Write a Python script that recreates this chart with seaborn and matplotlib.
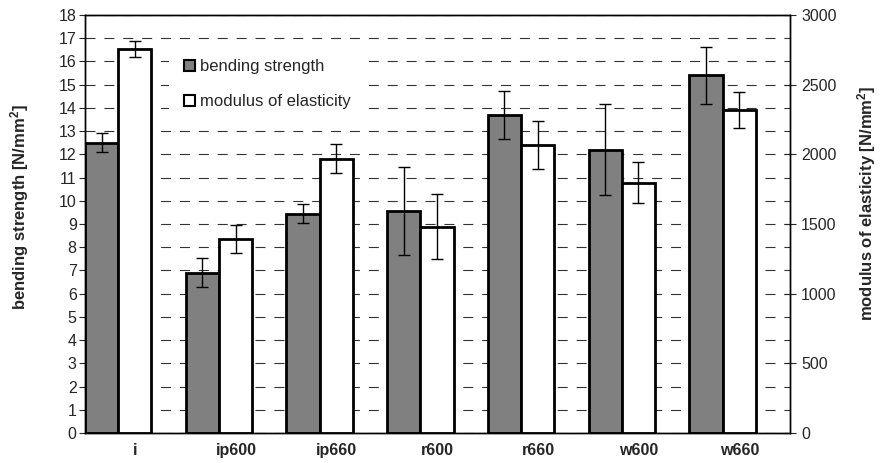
import pandas as pd
import numpy as np
import seaborn as sns
import matplotlib.pyplot as plt
from matplotlib.patches import Patch

# data
samples = ["i", "ip600", "ip660", "r600", "r660", "w600", "w660"]
series = ["bending strength", "modulus of elasticity"]
bending = [12.5, 6.9, 9.45, 9.55, 13.7, 12.2, 15.4]
bending_err = [0.4, 0.62, 0.4, 1.9, 1.03, 1.95, 1.23]
modulus = [2755, 1395, 1970, 1482, 2067, 1797, 2318]
modulus_err = [60, 100, 105, 230, 172, 147, 127]
colors = ["#808080", "#ffffff"]

df_b = pd.DataFrame({"sample": samples, "value": bending, "series": series[0]})
df_m = pd.DataFrame({"sample": samples, "value": modulus, "series": series[1]})

sns.set_style("ticks")
plt.rcParams["font.family"] = ["Liberation Sans", "DejaVu Sans"]
plt.rcParams["mathtext.default"] = "regular"

fig = plt.figure(figsize=(8.8, 4.63), dpi=100)
ax = fig.add_axes([0.0966, 0.0648, 0.8011, 0.9028])
ax2 = ax.twinx()

# bending strength on the left axis, modulus on the right axis
sns.barplot(data=df_b, x="sample", y="value", hue="series", hue_order=series,
            palette=colors, width=0.66, dodge=True, edgecolor="black",
            linewidth=2, saturation=1, ax=ax, legend=False, zorder=2)
sns.barplot(data=df_m, x="sample", y="value", hue="series", hue_order=series,
            palette=colors, width=0.66, dodge=True, edgecolor="black",
            linewidth=2, saturation=1, ax=ax2, legend=False, zorder=2)

# error bars at bar centres
xb = sorted(p.get_x() + p.get_width() / 2 for p in ax.patches)
xm = sorted(p.get_x() + p.get_width() / 2 for p in ax2.patches)
ax.errorbar(xb, bending, yerr=bending_err, fmt="none", ecolor="black",
            elinewidth=1, capsize=4, capthick=1, zorder=3)
ax2.errorbar(xm, modulus, yerr=modulus_err, fmt="none", ecolor="black",
             elinewidth=1, capsize=4, capthick=1, zorder=3)

# bars sit in the left part of each category slot, labels at slot centre
n = len(samples)
ax.set_xlim(-0.33, n - 0.33)
ax2.set_xlim(-0.33, n - 0.33)
ax.set_xticks([i + 0.17 for i in range(n)])
ax.set_xticklabels(samples)
ax.set_ylim(0, 18)
ax2.set_ylim(0, 3000)
ax.set_yticks(range(0, 19))
ax2.set_yticks(range(0, 3001, 500))

ax.yaxis.grid(True, linestyle=(0, (9, 8)), color="#333333", linewidth=0.8)
ax.set_axisbelow(True)

for a in (ax, ax2):
    for s in a.spines.values():
        s.set_visible(True)
        s.set_color("black")
        s.set_linewidth(1)

ax.tick_params(axis="y", direction="out", length=4, labelsize=11.5, pad=2)
ax2.tick_params(axis="y", direction="inout", length=8, labelsize=11.5, pad=4)
ax.tick_params(axis="x", length=0, labelsize=11.5, pad=7)
ax2.tick_params(axis="x", length=0)
for lab in ax.get_xticklabels():
    lab.set_fontweight("bold")

ax.set_xlabel("")
ax2.set_xlabel("")
ax.set_ylabel("bending strength [N/mm$^2$]", fontweight="bold", fontsize=12)
ax2.set_ylabel("modulus of elasticity [N/mm$^2$]", fontweight="bold", fontsize=12,
               rotation=90)
ax.yaxis.set_label_coords(-0.076, 0.54)
ax2.yaxis.set_label_coords(1.092, 0.55)

handles = [Patch(facecolor=c, edgecolor="black", linewidth=1.5) for c in colors]
leg = ax2.legend(handles, series, loc="upper left", bbox_to_anchor=(0.119, 0.93),
                 borderaxespad=0, frameon=True, handlelength=0.65, handleheight=0.65,
                 handletextpad=0.3, labelspacing=1.2, fontsize=12, borderpad=0.9,
                 fancybox=False)
leg.get_frame().set_facecolor("white")
leg.get_frame().set_edgecolor("none")
leg.get_frame().set_alpha(1)

fig.savefig("out.png", dpi=100)
